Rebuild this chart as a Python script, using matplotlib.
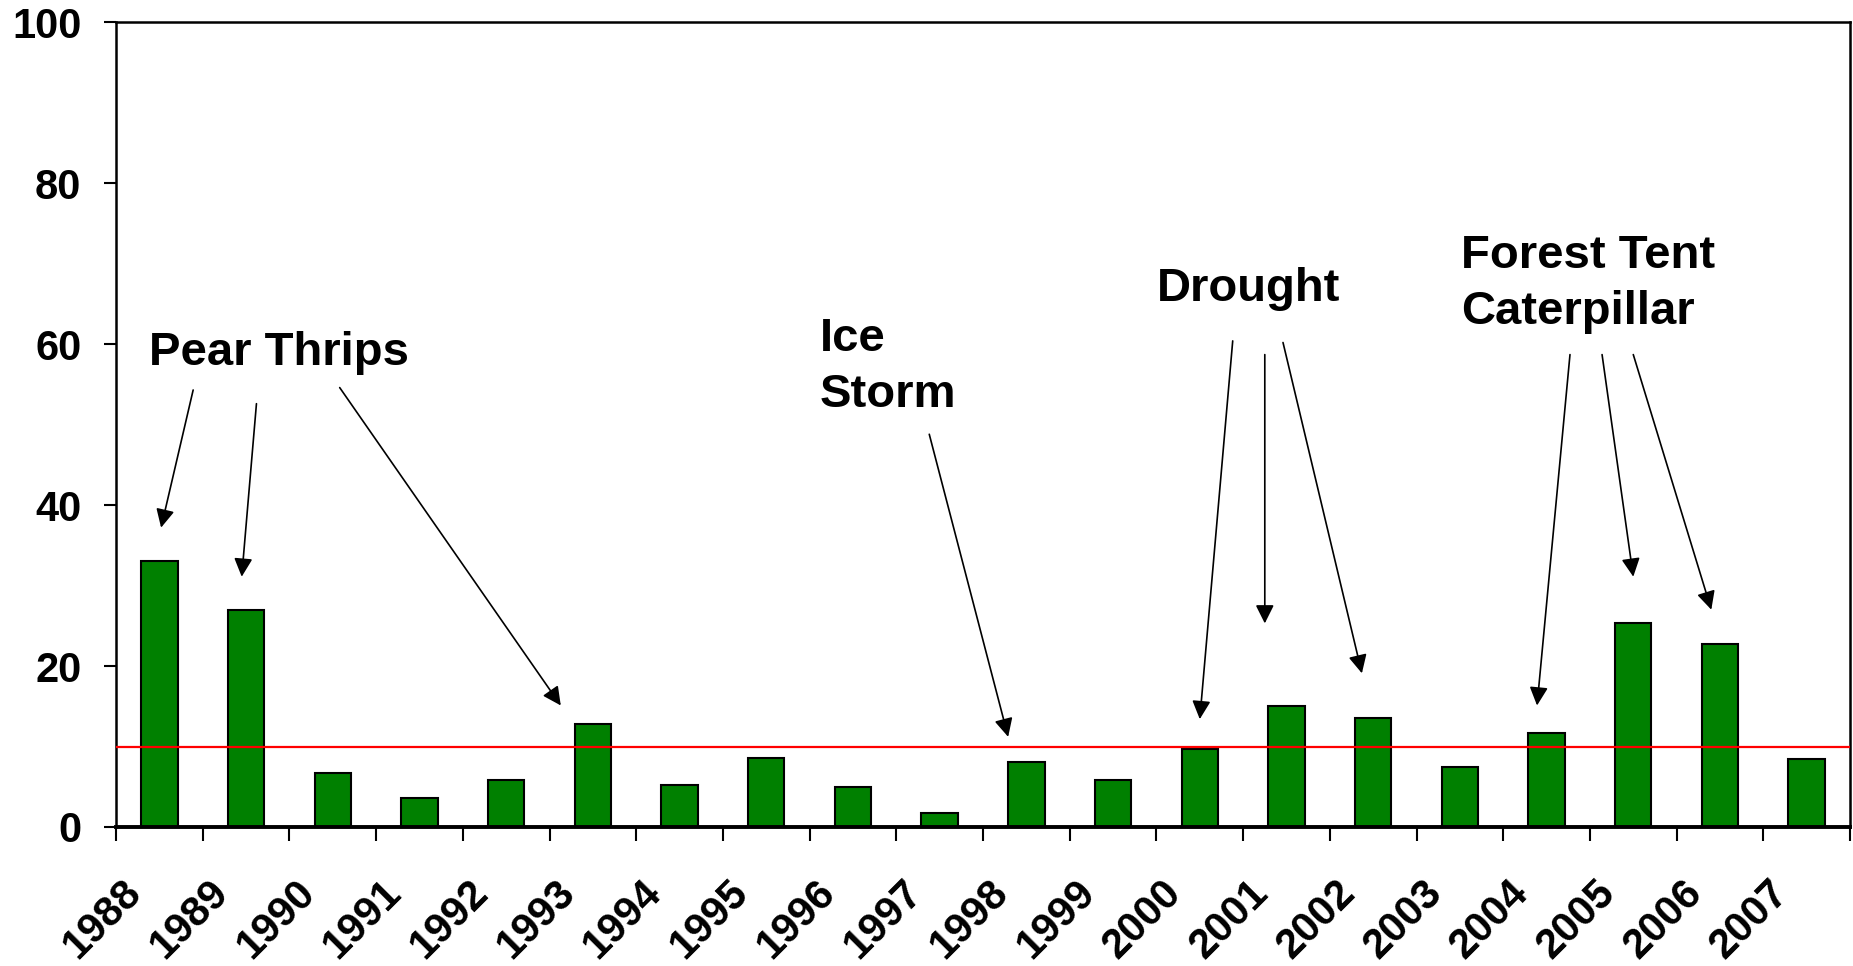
import numpy as np
import matplotlib
matplotlib.use("Agg")
import matplotlib.pyplot as plt
from matplotlib.transforms import ScaledTranslation

# -----------------------
# data
# -----------------------
years = [str(y) for y in range(1988, 2008)]
values = [33.0, 27.0, 6.7, 3.6, 5.8, 12.8, 5.2, 8.6, 5.0, 1.7,
          8.1, 5.9, 9.7, 15.0, 13.6, 7.5, 11.7, 25.3, 22.8, 8.4]
threshold = 10

# annotation labels, text anchor (x, y) and arrows (start, end) in data coords
notes = [
    ("Pear Thrips", (-0.12, 58.9),
     [((0.39, 54.3), (0.02, 37.2)),
      ((1.12, 52.6), (0.95, 31.1)),
      ((2.08, 54.6), (4.63, 15.1))]),
    ("Ice\nStorm", (7.62, 57.2),
     [((8.88, 48.8), (9.79, 11.2))]),
    ("Drought", (11.50, 66.9),
     [((12.38, 60.4), (12.00, 13.4)),
      ((12.75, 58.7), (12.75, 25.3)),
      ((12.96, 60.2), (13.87, 19.1))]),
    ("Forest Tent\nCaterpillar", (15.01, 67.5),
     [((16.27, 58.7), (15.89, 15.1)),
      ((16.64, 58.7), (17.00, 31.1)),
      ((17.00, 58.7), (17.90, 27.0))]),
]

plt.rcParams['font.family'] = ['Liberation Sans', 'DejaVu Sans']
plt.rcParams['font.weight'] = 'bold'

fig = plt.figure(figsize=(18.53, 9.66), dpi=100)
ax = fig.add_axes([0.0626, 0.1439, 0.9358, 0.8331])

x = np.arange(len(years))
ax.bar(x, values, width=0.42, color='#008000', edgecolor='black', linewidth=1.5, zorder=2)
ax.axhline(threshold, color='#ff0000', linewidth=1.6, zorder=3)

ax.set_xlim(-0.5, len(years) - 0.5)
ax.set_ylim(0, 100)
ax.set_yticks(range(0, 101, 20))
ax.tick_params(axis='y', direction='out', length=9, width=1.5, labelsize=30, pad=16)

# ticks between categories, labels at the centres
ax.set_xticks(np.arange(len(years) + 1) - 0.5)
ax.set_xticklabels([])
ax.tick_params(axis='x', which='major', direction='out', length=10, width=1.5)
ax.set_xticks(x, minor=True)
ax.set_xticklabels(years, minor=True, rotation=45, ha='right', va='top', fontsize=30)
ax.tick_params(axis='x', which='minor', length=0, pad=33)
off = ScaledTranslation(-10 / 100, 0, fig.dpi_scale_trans)
for lab in ax.get_xticklabels(minor=True):
    lab.set_transform(lab.get_transform() + off)

for side in ['left', 'right', 'top']:
    ax.spines[side].set_linewidth(1.8)
ax.spines['bottom'].set_linewidth(2.8)

for label, (tx, ty), arrows in notes:
    ax.text(tx, ty, label, fontsize=34, fontweight='bold', ha='left', va='center',
            linespacing=1.35)
    for (x0, y0), (x1, y1) in arrows:
        ax.annotate("", xy=(x1, y1), xytext=(x0, y0),
                    arrowprops=dict(arrowstyle='-|>', color='black', lw=1.2,
                                    mutation_scale=28, shrinkA=0, shrinkB=0))

fig.savefig("out.png", dpi=100)
